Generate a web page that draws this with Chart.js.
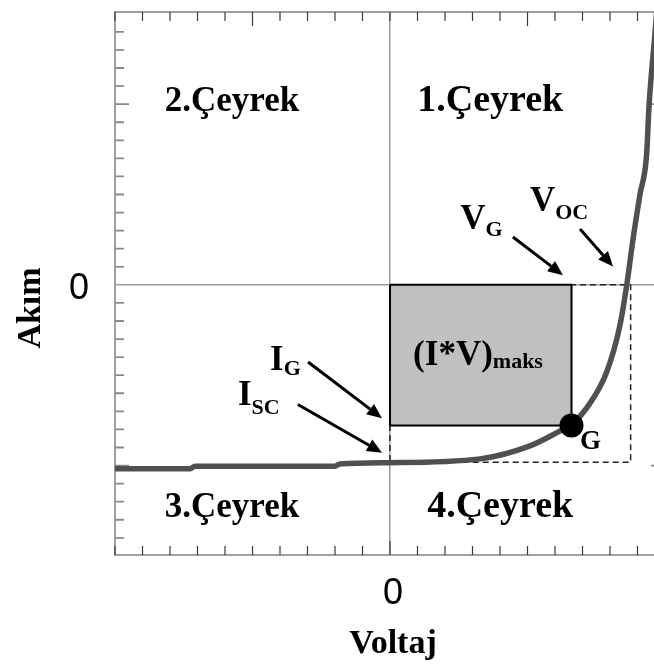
<!DOCTYPE html>
<html>
<head>
<meta charset="utf-8">
<script src="https://cdn.jsdelivr.net/npm/chart.js@4.4.0/dist/chart.umd.min.js"></script>
<style>
    html, body { margin: 0; padding: 0; background: #fff; overflow: hidden; }
    #wrap { width: 654px; height: 666px; overflow: hidden; }
    canvas { display: block; }
</style>
</head>
<body>
<div id="wrap"><canvas id="ivChart" width="680" height="666"></canvas></div>
<script>
// I-V curve of the cell (Voltaj, Akım) in axis units
const curveV = [-10, -7.27, -7.09, -2.0, -1.82, 0, 3.27, 5.09, 6.18, 6.58, 7.15, 7.88, 8.36, 8.61, 8.85, 9.09, 9.33, 9.42, 9.64, 9.71];
const curveI = [-10.18, -10.18, -10.04, -10.04, -9.91, -9.84, -9.63, -8.91, -8.09, -7.76, -6.82, -4.82, -2.25, 0, 2.66, 5.0, 7.19, 9.91, 14.0, 15.4];

// maximum power point G and the dashed Voc / Isc box
const pointG = { v: 6.6, i: -7.78 };
const boxV = 8.75;
const boxI = -9.82;

const quadrantNames = ['1.Çeyrek', '2.Çeyrek', '3.Çeyrek', '4.Çeyrek'];
const xTickValues = [-10, -9, -8, -7, -6, -5, -4, -3, -2, -1, 0, 1, 2, 3, 4, 5, 6, 7, 8, 9, 10];
const yTickValues = [-14, -13, -12, -11, -10, -9, -8, -7, -6, -5, -4, -3, -2, -1, 0, 1, 2, 3, 4, 5, 6, 7, 8, 9, 10, 11, 12, 13, 14];

const SERIF = '"Liberation Serif", "Times New Roman", serif';
const SANS = '"Liberation Sans", Arial, sans-serif';

// where the texts and arrows sit, in axis units (quadrant names: right end, baseline, size)
const quadrantPos = [[6.3, 9.64, 38], [-3.3, 9.64, 35], [-3.3, -12.84, 35], [6.66, -12.84, 38]];
const subLabels = [
    { main: 'V', sub: 'G', at: [2.55, 3.1], drop: 7 },
    { main: 'V', sub: 'OC', at: [5.09, 4.1], drop: 8 },
    { main: 'I', sub: 'G', at: [-4.36, -4.72], drop: 5 },
    { main: 'I', sub: 'SC', at: [-5.53, -6.65], drop: 9 }
];
const arrows = [
    [[4.47, 2.65], [6.29, 0.53]],
    [[6.91, 3.09], [8.11, 1.02]],
    [[-2.98, -4.27], [-0.29, -7.38]],
    [[-3.35, -6.62], [-0.29, -9.29]]
];

function drawArrow(ctx, x1, y1, x2, y2) {
    const a = Math.atan2(y2 - y1, x2 - x1);
    const head = 15, half = 6.5;
    const bx = x2 - head * Math.cos(a), by = y2 - head * Math.sin(a);
    ctx.lineWidth = 3;
    ctx.beginPath();
    ctx.moveTo(x1, y1);
    ctx.lineTo(bx, by);
    ctx.stroke();
    ctx.beginPath();
    ctx.moveTo(x2, y2);
    ctx.lineTo(bx - half * Math.sin(a), by + half * Math.cos(a));
    ctx.lineTo(bx + half * Math.sin(a), by - half * Math.cos(a));
    ctx.closePath();
    ctx.fill();
}

// frame and inward tick marks
const framePlugin = {
    id: 'frame',
    beforeDatasetsDraw(chart) {
        const { ctx, chartArea: a, scales: { x, y } } = chart;
        ctx.save();
        ctx.strokeStyle = '#a0a0a0';
        ctx.lineWidth = 2;
        ctx.strokeRect(a.left, a.top, a.right - a.left, a.bottom - a.top);

        ctx.lineWidth = 1.2;
        ctx.strokeStyle = '#3a3a3a';
        xTickValues.forEach(v => {
            const px = x.getPixelForValue(v);
            const top = (v === -5 || v === 5) ? 14 : 9;
            const bottom = v === 0 ? 14 : 9;
            ctx.beginPath();
            ctx.moveTo(px, a.top); ctx.lineTo(px, a.top + top);
            ctx.moveTo(px, a.bottom); ctx.lineTo(px, a.bottom - bottom);
            ctx.stroke();
        });
        ctx.lineWidth = 1.8;
        ctx.strokeStyle = '#8a8a8a';
        yTickValues.forEach(v => {
            if (v === 0) return;
            const py = y.getPixelForValue(v);
            const len = Math.abs(v) === 10 ? 14 : 9;
            ctx.beginPath();
            ctx.moveTo(a.left, py); ctx.lineTo(a.left + len, py);
            ctx.moveTo(a.right, py); ctx.lineTo(a.right - len, py);
            ctx.stroke();
        });
        ctx.restore();
    },
    afterDatasetsDraw(chart) {
        const { ctx, scales: { x, y } } = chart;
        const px = v => x.getPixelForValue(v);
        const py = v => y.getPixelForValue(v);
        ctx.save();
        ctx.fillStyle = '#000';
        ctx.strokeStyle = '#000';
        ctx.textBaseline = 'alphabetic';

        ctx.textAlign = 'right';
        quadrantNames.forEach((name, k) => {
            const [qx, qy, size] = quadrantPos[k];
            ctx.font = 'bold ' + size + 'px ' + SERIF;
            ctx.fillText(name, px(qx), py(qy));
        });

        ctx.textAlign = 'left';
        subLabels.forEach(l => {
            const lx = px(l.at[0]), ly = py(l.at[1]);
            ctx.font = 'bold 35px ' + SERIF;
            ctx.fillText(l.main, lx, ly);
            const w = ctx.measureText(l.main).width;
            ctx.font = 'bold 22px ' + SERIF;
            ctx.fillText(l.sub, lx + w, ly + l.drop);
        });

        // (I*V)maks inside the power rectangle
        const mx = px(0.84), my = py(-4.44);
        ctx.font = 'bold 35px ' + SERIF;
        ctx.fillText('(I*V)', mx, my);
        const mw = ctx.measureText('(I*V)').width;
        ctx.font = 'bold 22px ' + SERIF;
        ctx.fillText('maks', mx + mw, my + 3);

        ctx.font = 'bold 27px ' + SERIF;
        ctx.fillText('G', px(6.91), py(-9.09));

        arrows.forEach(([from, to]) => {
            drawArrow(ctx, px(from[0]), py(from[1]), px(to[0]), py(to[1]));
        });

        // axis titles
        ctx.textAlign = 'center';
        ctx.font = 'bold 34px ' + SERIF;
        ctx.fillText('Voltaj', 393, 653);
        ctx.translate(40, 308);
        ctx.rotate(-Math.PI / 2);
        ctx.fillText('Akım', 0, 0);
        ctx.restore();
    }
};

const zeroOnly = v => v === 0 ? '0' : '';
const zeroLine = c => (c.tick && c.tick.value === 0) ? '#9a9a9a' : 'rgba(0,0,0,0)';

const curveData = curveV.map((v, k) => ({ x: v, y: curveI[k] }));

new Chart(document.getElementById('ivChart').getContext('2d'), {
    type: 'line',
    data: {
        datasets: [
            {
                label: 'G',
                data: [{ x: pointG.v, y: pointG.i }],
                showLine: false,
                pointRadius: 12,
                pointBackgroundColor: '#000',
                pointBorderWidth: 0,
                order: 0
            },
            {
                label: 'I-V',
                data: curveData,
                borderColor: '#505050',
                borderWidth: 5.5,
                pointRadius: 0,
                cubicInterpolationMode: 'monotone',
                fill: false,
                order: 1
            },
            {
                label: '(I*V)maks',
                data: [
                    { x: 0, y: 0 }, { x: pointG.v, y: 0 },
                    { x: pointG.v, y: pointG.i }, { x: 0, y: pointG.i }, { x: 0, y: 0 }
                ],
                borderColor: '#000',
                borderWidth: 2,
                backgroundColor: '#c0c0c0',
                fill: 'shape',
                tension: 0,
                pointRadius: 0,
                order: 2
            },
            {
                label: 'Voc-Isc',
                data: [
                    { x: 0, y: 0 }, { x: boxV, y: 0 },
                    { x: boxV, y: boxI }, { x: 0, y: boxI }, { x: 0, y: 0 }
                ],
                borderColor: '#222',
                borderWidth: 1.5,
                borderDash: [6, 4],
                fill: false,
                tension: 0,
                pointRadius: 0,
                order: 3
            }
        ]
    },
    options: {
        responsive: false,
        animation: false,
        layout: { padding: { top: 5, right: 15, left: 0, bottom: 0 } },
        plugins: {
            legend: { display: false },
            tooltip: { enabled: false }
        },
        scales: {
            x: {
                type: 'linear',
                min: -10,
                max: 10,
                border: { display: false },
                grid: { drawTicks: false, color: zeroLine, lineWidth: 1.5 },
                ticks: {
                    stepSize: 1,
                    autoSkip: false,
                    maxRotation: 0,
                    padding: 17,
                    labelOffset: 3,
                    color: '#000',
                    font: { family: SANS, size: 36 },
                    callback: zeroOnly
                },
                afterFit: s => {
                    s.height = 111;
                    s.paddingLeft = 0;
                    s.paddingRight = 0;
                }
            },
            y: {
                type: 'linear',
                min: -14.95,
                max: 15.1,
                border: { display: false },
                grid: { drawTicks: false, color: zeroLine, lineWidth: 1.5 },
                ticks: {
                    stepSize: 1,
                    autoSkip: false,
                    padding: 26,
                    labelOffset: 4,
                    color: '#000',
                    font: { family: SANS, size: 36 },
                    callback: zeroOnly
                },
                afterFit: s => {
                    s.width = 115;
                    s.paddingTop = 0;
                    s.paddingBottom = 0;
                }
            }
        }
    },
    plugins: [framePlugin]
});
</script>
</body>
</html>
